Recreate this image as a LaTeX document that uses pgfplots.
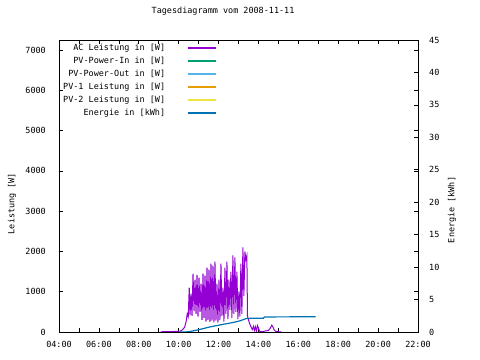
\documentclass[border=0pt]{standalone}
\usepackage{pgfplots}
\pgfplotsset{compat=1.18}
\usepackage{pgfplotstable}
\usepackage{fontspec}
\setmainfont{DejaVu Sans Mono}
\setmonofont{DejaVu Sans Mono}
\definecolor{acviolet}{HTML}{9400D3}
\definecolor{pvgreen}{HTML}{009E73}
\definecolor{pvsky}{HTML}{56B4E9}
\definecolor{pvorange}{HTML}{E69F00}
\definecolor{pvyellow}{HTML}{F0E442}
\definecolor{enblue}{HTML}{0072B2}

\pgfplotstableread{
h W
9.10 5
9.30 8
9.50 10
9.70 12
9.90 15
10.00 20
10.10 25
10.20 60
10.30 120
10.37 250
10.43 450
10.48 380
10.53 1100
10.57 420
10.62 950
10.67 400
10.72 1450
10.77 520
10.82 1300
10.87 450
10.92 1420
10.97 380
11.02 1350
11.07 500
11.12 1200
11.17 300
11.22 1450
11.27 350
11.32 1400
11.37 260
11.42 1600
11.47 300
11.52 1550
11.57 250
11.62 1700
11.67 280
11.72 1650
11.77 240
11.82 1750
11.87 280
11.92 1200
11.97 230
12.02 1300
12.07 300
12.12 1700
12.17 400
12.22 1100
12.27 260
12.32 1600
12.37 450
12.42 1750
12.47 320
12.52 1300
12.57 550
12.62 1500
12.67 350
12.72 1900
12.77 450
12.82 1850
12.87 500
12.92 1500
12.97 320
13.02 1000
13.07 380
13.12 1700
13.17 450
13.22 2100
13.27 900
13.32 2000
13.37 1800
13.42 1900
13.45 400
13.50 300
13.55 220
13.60 160
13.65 100
13.70 60
13.75 140
13.80 40
13.85 130
13.90 20
13.95 160
14.00 100
14.05 20
14.10 15
14.20 10
14.30 20
14.40 30
14.50 40
14.60 100
14.67 170
14.73 120
14.78 60
14.85 20
14.95 10
15.05 5
15.15 3
}\acdata

\pgfplotstableread{
h E
10.05 0
10.40 0.02
10.60 0.10
10.80 0.22
11.00 0.35
11.20 0.50
11.40 0.66
11.60 0.80
11.80 0.93
12.00 1.04
12.24 1.19
12.50 1.33
12.70 1.45
12.91 1.59
13.10 1.75
13.30 1.98
13.42 2.10
14.25 2.12
14.30 2.32
16.87 2.35
}\endata

\begin{document}
\begin{tikzpicture}[font=\fontsize{8.5}{10}\selectfont]
\useasboundingbox (-59bp,-28bp) rectangle (421bp,332bp);
\begin{axis}[
  scale only axis, width=359bp, height=292bp,
  at={(0,0)}, anchor=south west,
  xmin=4, xmax=22, ymin=0, ymax=7250,
  xtick={4,...,22},
  xticklabels={04:00,,06:00,,08:00,,10:00,,12:00,,14:00,,16:00,,18:00,,20:00,,22:00},
  ytick={0,1000,...,7000},
  /pgf/number format/assume math mode=true,
  /pgf/number format/1000 sep={},
  tick align=inside, major tick length=4bp,
  tick style={black, line width=0.6bp},
  axis line style={line width=0.8bp},
  xticklabel style={inner sep=0pt, anchor=north, yshift=-9bp},
  yticklabel style={inner sep=0pt, anchor=east, xshift=-13bp},
  ylabel={Leistung [W]},
  ylabel style={at={(axis description cs:-0.131,0.44)}, anchor=center, rotate=0},
  title={Tagesdiagramm vom 2008-11-11},
  title style={at={(axis description cs:0.457,1.079)}, anchor=center, inner sep=0pt},
  legend cell align=right, legend plot pos=right,
  legend image code/.code={\draw[#1] (0bp,0bp) -- (28bp,0bp);},
  legend style={draw=none, fill=none, at={(0,1)}, anchor=north west,
    xshift=4bp, yshift=-4bp, inner sep=0pt, row sep=5.5bp, column sep=22bp,
    nodes={inner sep=0pt, text height=6bp, text depth=1.5bp}},
]
\addplot[draw=acviolet, line width=1bp, forget plot] table[x=h, y=W] {\acdata};
\addlegendimage{draw=acviolet, line width=1.2bp}
\addlegendentry{AC Leistung in [W]}
\addlegendimage{draw=pvgreen, line width=1.2bp}
\addlegendentry{PV-Power-In in [W]}
\addlegendimage{draw=pvsky, line width=1.2bp}
\addlegendentry{PV-Power-Out in [W]}
\addlegendimage{draw=pvorange, line width=1.2bp}
\addlegendentry{PV-1 Leistung in [W]}
\addlegendimage{draw=pvyellow, line width=1.2bp}
\addlegendentry{PV-2 Leistung in [W]}
\addlegendimage{draw=enblue, line width=1.2bp}
\addlegendentry{Energie in [kWh]}
\end{axis}
\begin{axis}[
  scale only axis, width=359bp, height=292bp,
  at={(0,0)}, anchor=south west,
  xmin=4, xmax=22, ymin=0, ymax=45,
  axis x line=none, axis y line*=right,
  ytick={0,5,...,45},
  /pgf/number format/assume math mode=true,
  tick align=inside, major tick length=4bp,
  tick style={black, line width=0.6bp},
  axis line style={line width=0.8bp},
  yticklabel style={inner sep=0pt, anchor=west, xshift=11bp},
  ylabel={Energie [kWh]},
  ylabel style={at={(axis description cs:1.095,0.418)}, anchor=center, rotate=0},
]
\addplot[draw=enblue, line width=1.2bp] table[x=h, y=E] {\endata};
\end{axis}
\end{tikzpicture}
\end{document}
